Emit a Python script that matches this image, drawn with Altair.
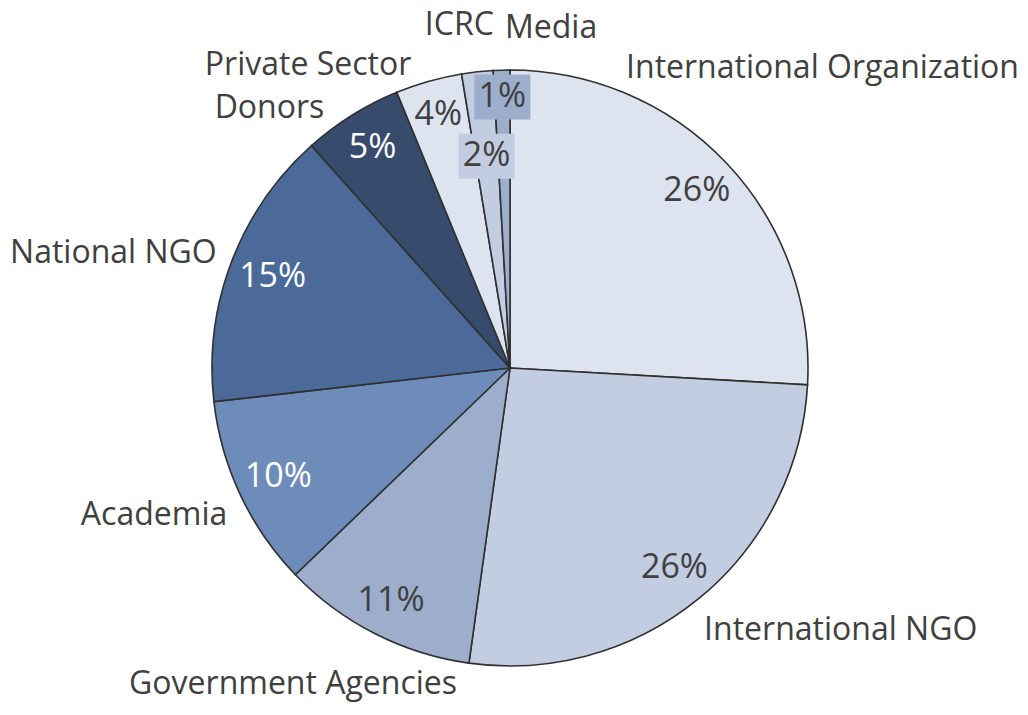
import altair as alt
import pandas as pd

# ---- data ----
categories = ["International Organization", "International NGO", "Government Agencies",
              "Academia", "National NGO", "Donors", "Private Sector", "ICRC", "Media"]
shares = [25.9, 26.3, 10.6, 10.4, 15.2, 5.4, 3.6, 1.7, 0.9]

# ---- styling ----
slice_colors = ["#dde3ef", "#c3cde1", "#9daecd", "#6d8cb9", "#4b6a99", "#374c6d",
                "#dde3ef", "#c3cde1", "#9daecd"]
pct_text_colors = ["#404040", "#404040", "#404040", "#ffffff", "#ffffff", "#ffffff",
                   "#404040", "#404040", "#404040"]
boxed = [0, 0, 0, 0, 0, 0, 0, 1, 1]

# ---- label layout (polar, relative to pie centre) ----
pct_label_radius = [257, 259, 262, 256, 254, 259, 263, 213, 271]
name_label_angle = [46.2, 128.4, 214.5, 247.6, 286.2, 317.2, 326.3, 351.6, 6.9]
name_label_radius = [433, 422, 383, 385, 413, 354, 364, 347, 342]

# ---- geometry ----
W, H = 1004, 670
PAD = {"left": 0, "top": 25, "right": 8, "bottom": 0}
CX, CY = W / 2, H / 2
R = 298
FONT = "Open Sans"
FS_NAME = 32
FS_PCT = 34
DARK = "#404040"

df = pd.DataFrame({
    "idx": list(range(len(categories))),
    "category": categories,
    "value": shares,
    "tcolor": pct_text_colors,
    "boxed": boxed,
    "pct_r": pct_label_radius,
    "name_a": name_label_angle,
    "name_r": name_label_radius,
})

color_scale = alt.Scale(domain=categories, range=slice_colors)

base = alt.Chart(df)

arcs = base.mark_arc(outerRadius=R, stroke="#303030", strokeWidth=1.6).encode(
    theta=alt.Theta("value:Q", stack=True),
    order=alt.Order("idx:Q", sort="ascending"),
    color=alt.Color("category:N", scale=color_scale, legend=None),
)

# mid-angle of every slice, derived from the data
polar = base.transform_joinaggregate(
    total="sum(value)"
).transform_window(
    cum="sum(value)", sort=[alt.SortField("idx", order="ascending")], frame=[None, 0]
).transform_calculate(
    mid="(datum.cum - datum.value / 2) / datum.total * 2 * PI",
    pct_label="format(datum.value, '.0f') + '%'",
).transform_calculate(
    bx=f"{CX} + datum.pct_r * sin(datum.mid)",
    by=f"{CY} - datum.pct_r * cos(datum.mid)",
)

boxes = polar.transform_calculate(
    bx0="datum.bx - 28", bx1="datum.bx + 28",
    by0="datum.by - 22.5", by1="datum.by + 22.5",
).transform_filter("datum.boxed == 1").mark_rect().encode(
    x=alt.X("bx0:Q", scale=None),
    x2="bx1:Q",
    y=alt.Y("by0:Q", scale=None),
    y2="by1:Q",
    color=alt.Color("category:N", scale=color_scale, legend=None),
)

pct_text = polar.mark_text(font=FONT, fontSize=FS_PCT, align="center", baseline="middle").encode(
    x=alt.X("bx:Q", scale=None),
    y=alt.Y("by:Q", scale=None),
    text="pct_label:N",
    fill=alt.Fill("tcolor:N", scale=None),
)

name_text = base.transform_calculate(
    lx=f"{CX} + datum.name_r * sin(datum.name_a * PI / 180)",
    ly=f"{CY} - datum.name_r * cos(datum.name_a * PI / 180)",
).mark_text(font=FONT, fontSize=FS_NAME, align="center", baseline="middle", color=DARK).encode(
    x=alt.X("lx:Q", scale=None),
    y=alt.Y("ly:Q", scale=None),
    text="category:N",
)

chart = alt.layer(arcs, boxes, pct_text, name_text).properties(
    width=W, height=H, padding=PAD,
    autosize=alt.AutoSizeParams(type="none"),
    background="white",
).configure_view(stroke=None)

chart.save("out.html", embed_options={"renderer": "svg", "actions": False})
